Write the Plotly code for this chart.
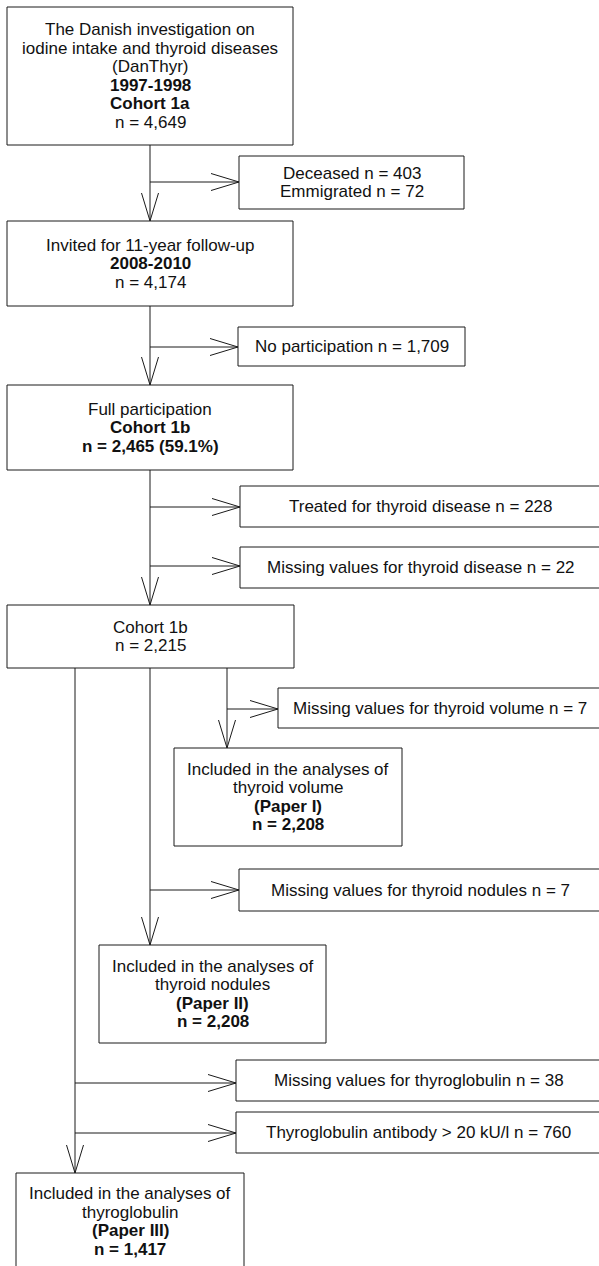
import plotly.graph_objects as go

# ---------------- data (text content and counts) ----------------
cohort_titles = ["The Danish investigation on", "iodine intake and thyroid diseases", "(DanThyr)"]
period_1 = "1997-1998"
period_2 = "2008-2010"
n_start = 4649
n_deceased = 403
n_emigrated = 72
n_invited = 4174
n_no_participation = 1709
n_full = 2465
pct_full = 59.1
n_treated = 228
n_missing_disease = 22
n_cohort1b = 2215
n_missing_volume = 7
n_paper1 = 2208
n_missing_nodules = 7
n_paper2 = 2208
n_missing_tg = 38
n_tg_antibody = 760
n_paper3 = 1417

def fmt(n):
    return f"{n:,}"

# Each box: list of (text, bold)
box_texts = {
    "B1": [(cohort_titles[0], False), (cohort_titles[1], False), (cohort_titles[2], False),
           (period_1, True), ("Cohort 1a", True), (f"n = {fmt(n_start)}", False)],
    "D1": [(f"Deceased n = {fmt(n_deceased)}", False), (f"Emmigrated n = {fmt(n_emigrated)}", False)],
    "B2": [("Invited for 11-year follow-up", False), (period_2, True), (f"n = {fmt(n_invited)}", False)],
    "D2": [(f"No participation n = {fmt(n_no_participation)}", False)],
    "B3": [("Full participation", False), ("Cohort 1b", True), (f"n = {fmt(n_full)} ({pct_full}%)", True)],
    "D3": [(f"Treated for thyroid disease n = {fmt(n_treated)}", False)],
    "D4": [(f"Missing values for thyroid disease n = {fmt(n_missing_disease)}", False)],
    "B4": [("Cohort 1b", False), (f"n = {fmt(n_cohort1b)}", False)],
    "D5": [(f"Missing values for thyroid volume n = {fmt(n_missing_volume)}", False)],
    "B5": [("Included in the analyses of", False), ("thyroid volume", False), ("(Paper I)", True),
           (f"n = {fmt(n_paper1)}", True)],
    "D6": [(f"Missing values for thyroid nodules n = {fmt(n_missing_nodules)}", False)],
    "B6": [("Included in the analyses of", False), ("thyroid nodules", False), ("(Paper II)", True),
           (f"n = {fmt(n_paper2)}", True)],
    "D7": [(f"Missing values for thyroglobulin n = {fmt(n_missing_tg)}", False)],
    "D8": [(f"Thyroglobulin antibody > 20 kU/l n = {fmt(n_tg_antibody)}", False)],
    "B7": [("Included in the analyses of", False), ("thyroglobulin", False), ("(Paper III)", True),
           (f"n = {fmt(n_paper3)}", True)],
}

# ---------------- layout geometry (pixels) ----------------
box_geom = {  # x0, x1, y0, y1
    "B1": (7, 293, 7, 145),
    "D1": (239, 464, 156, 209),
    "B2": (7, 293, 221, 306),
    "D2": (238, 465, 327, 366),
    "B3": (7, 293, 385, 470),
    "D3": (240, 601, 486, 527),
    "D4": (240, 601, 547, 588),
    "B4": (7, 294, 605, 668),
    "D5": (278, 601, 688, 728),
    "B5": (174, 402, 748, 846),
    "D6": (239, 601, 869, 911),
    "B6": (99, 326, 945, 1043),
    "D7": (236, 601, 1060, 1101),
    "D8": (236, 601, 1112, 1153),
    "B7": (16, 244, 1173, 1270),
}

# vertical flows: x, y_start, y_end(arrow tip), side arrows [(y, x_end)]
flows = [
    (150, 145, 221, [(182, 239)]),
    (150, 306, 385, [(347, 238)]),
    (150, 470, 605, [(507, 240), (566, 240)]),
    (227, 668, 748, [(709, 278)]),
    (150, 668, 945, [(890, 239)]),
    (75, 668, 1173, [(1083, 236), (1133, 236)]),
]

LINE = "#1a1a1a"
TEXT = "#111111"
FONT = "Liberation Sans, Arial, Helvetica, sans-serif"
FS = 17
LH = 18.5
HEAD_L = 28
HEAD_W = 8.5

fig = go.Figure()
shapes = []
annotations = []

for key, (x0, x1, y0, y1) in box_geom.items():
    shapes.append(dict(type="rect", xref="x", yref="y", x0=x0, x1=x1, y0=y0, y1=y1,
                       line=dict(color=LINE, width=1), fillcolor="white", layer="above"))
    lines = box_texts[key]
    cx = (x0 + x1) / 2
    cy = (y0 + y1) / 2
    n = len(lines)
    for i, (t, b) in enumerate(lines):
        y = cy + (i - (n - 1) / 2) * LH
        annotations.append(dict(x=cx, y=y, xref="x", yref="y", showarrow=False,
                                text=f"<b>{t}</b>" if b else t,
                                xanchor="center", yanchor="middle",
                                font=dict(family=FONT, size=FS, color=TEXT)))

def seg(xa, ya, xb, yb):
    shapes.append(dict(type="line", xref="x", yref="y", x0=xa, y0=ya, x1=xb, y1=yb,
                       line=dict(color=LINE, width=1)))

for x, ys, ye, sides in flows:
    seg(x, ys, x, ye)
    seg(x - HEAD_W, ye - HEAD_L, x, ye)
    seg(x + HEAD_W, ye - HEAD_L, x, ye)
    for (y, xe) in sides:
        seg(x, y, xe, y)
        seg(xe - HEAD_L, y - HEAD_W, xe, y)
        seg(xe - HEAD_L, y + HEAD_W, xe, y)

fig.update_layout(
    width=599, height=1266,
    margin=dict(l=0, r=0, t=0, b=0),
    paper_bgcolor="white", plot_bgcolor="white",
    xaxis=dict(range=[0, 599], visible=False, fixedrange=True),
    yaxis=dict(range=[1266, 0], visible=False, fixedrange=True),
    shapes=shapes, annotations=annotations,
    showlegend=False,
)

fig.write_html(
    "out.html",
    config={"displayModeBar": False},
    post_script="document.body.style.margin='0';document.body.style.overflow='hidden';",
)
